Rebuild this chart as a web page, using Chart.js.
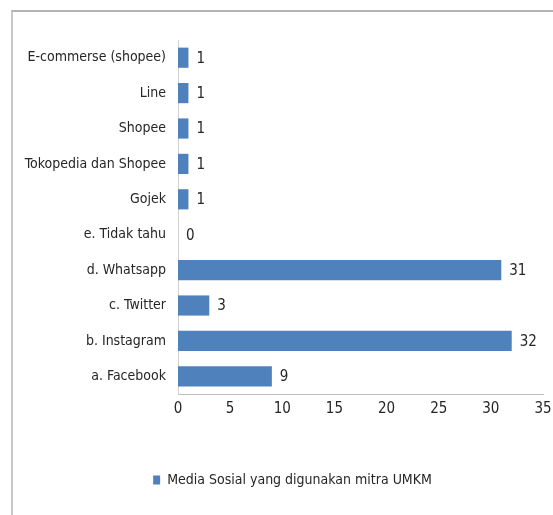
<!DOCTYPE html>
<html>
<head>
<meta charset="utf-8">
<script src="https://cdn.jsdelivr.net/npm/chart.js@4.4.1/dist/chart.umd.min.js"></script>
<style>
    html, body { margin: 0; padding: 0; background: #ffffff; overflow: hidden; }
    #wrap { position: relative; width: 553px; height: 515px; overflow: hidden; }
    #frame {
        position: absolute; left: 11px; top: 10px; width: 600px; height: 600px;
        border-top: 2px solid #b4b4b4; border-left: 2px solid #c8c8c8;
    }
    #box { position: absolute; left: 0; top: 0; width: 585px; height: 515px; }
</style>
</head>
<body>
<div id="wrap">
    <div id="frame"></div>
    <div id="box"><canvas id="mediaSosialChart"></canvas></div>
</div>
<script>
// data from the reference (top to bottom)
const kategori = [
    'E-commerse (shopee)', 'Line', 'Shopee', 'Tokopedia dan Shopee', 'Gojek',
    'e. Tidak tahu', 'd. Whatsapp', 'c. Twitter', 'b. Instagram', 'a. Facebook'
];
const jumlah = [1, 1, 1, 1, 1, 0, 31, 3, 32, 9];
const namaSeri = 'Media Sosial yang digunakan mitra UMKM';
const sumbuX = { min: 0, max: 35, step: 5 };

const FONT = "'Liberation Sans Narrow', 'DejaVu Sans Condensed', 'Arial Narrow', sans-serif";
const warnaTeks = '#262626';
const warnaBar = '#4F81BD';

// label nilai di ujung kanan tiap batang
const labelNilai = {
    id: 'labelNilai',
    afterDatasetsDraw(chart) {
        const ctx = chart.ctx;
        const meta = chart.getDatasetMeta(0);
        ctx.save();
        ctx.font = '15px ' + FONT;
        ctx.fillStyle = warnaTeks;
        ctx.textAlign = 'left';
        ctx.textBaseline = 'middle';
        meta.data.forEach(function(bar, i) {
            ctx.fillText(String(jumlah[i]), bar.x + 8, bar.y + 1);
        });
        ctx.restore();
    }
};

document.addEventListener('DOMContentLoaded', function() {
    const ctx = document.getElementById('mediaSosialChart');
    new Chart(ctx, {
        type: 'bar',
        data: {
            labels: kategori,
            datasets: [{
                label: namaSeri,
                data: jumlah,
                backgroundColor: warnaBar,
                borderWidth: 0,
                categoryPercentage: 1,
                barPercentage: 0.57
            }]
        },
        options: {
            indexAxis: 'y',
            responsive: true,
            maintainAspectRatio: false,
            animation: false,
            layout: { padding: { top: 40, right: 0, bottom: 18, left: 0 } },
            scales: {
                x: {
                    min: sumbuX.min,
                    max: sumbuX.max,
                    ticks: {
                        stepSize: sumbuX.step,
                        padding: 6,
                        color: warnaTeks,
                        font: { family: FONT, size: 15 }
                    },
                    grid: { display: false, drawTicks: false },
                    border: { display: true, color: '#bfbfbf', width: 1 },
                    afterFit: function(scale) { scale.height = 69; }
                },
                y: {
                    ticks: {
                        padding: 12,
                        color: warnaTeks,
                        font: { family: FONT, size: 14 }
                    },
                    grid: { display: false, drawTicks: false },
                    border: { display: true, color: '#d0d0d0', width: 1 },
                    afterFit: function(scale) { scale.width = 178; }
                },
                // sumbu kosong di kanan, hanya untuk memberi ruang
                yKanan: {
                    type: 'category',
                    position: 'right',
                    labels: kategori,
                    ticks: { display: false },
                    grid: { display: false, drawTicks: false },
                    border: { display: false },
                    afterFit: function(scale) { scale.width = 42; }
                }
            },
            plugins: {
                legend: {
                    position: 'bottom',
                    labels: {
                        boxWidth: 7,
                        boxHeight: 9,
                        padding: 10,
                        color: warnaTeks,
                        font: { family: FONT, size: 14 }
                    }
                },
                tooltip: { enabled: false }
            }
        },
        plugins: [labelNilai]
    });
});
</script>
</body>
</html>
